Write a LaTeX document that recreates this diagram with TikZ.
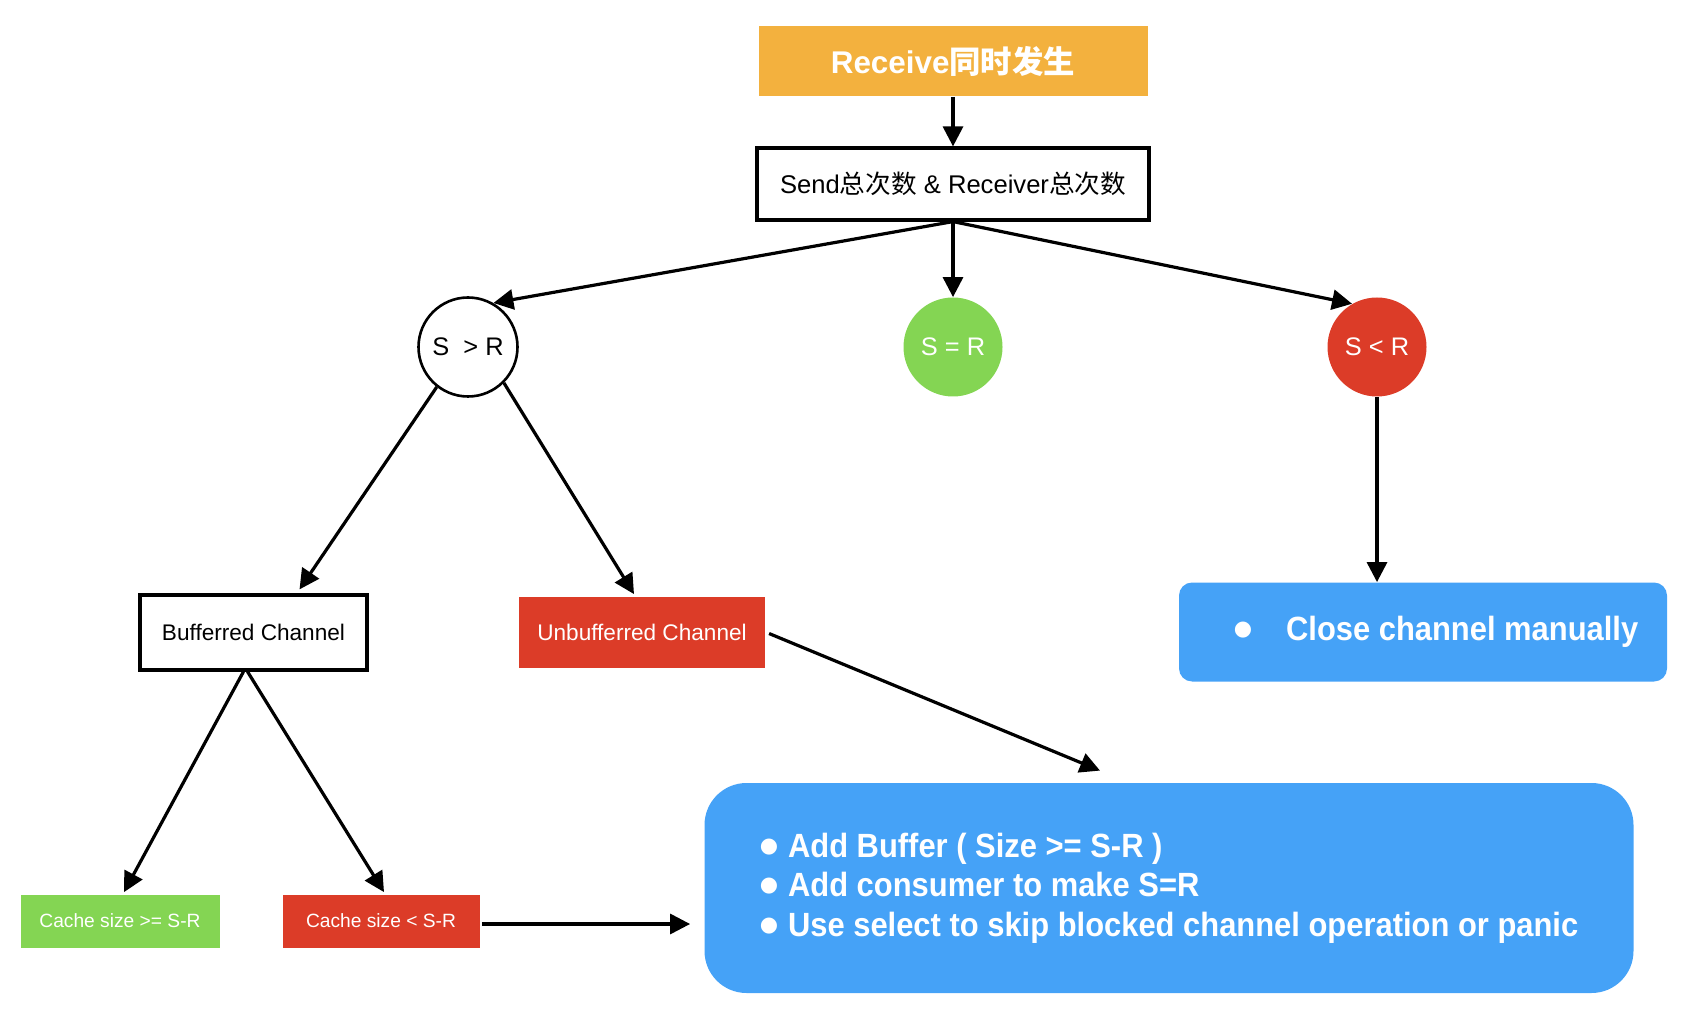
\documentclass[tikz,border=0pt]{standalone}
\usepackage{fontspec}
\setmainfont{Liberation Sans}
\newfontfamily\cjk{Noto Sans CJK SC}
\newfontfamily\tipfont[FakeStretch=0.92]{Liberation Sans}
\newfontfamily\symfont{DejaVu Sans}
\newcommand{\tipdot}{\raisebox{2.4pt}{\symfont\fontsize{10.5}{0}\selectfont ●}}
\usetikzlibrary{arrows.meta}
\definecolor{orangebox}{HTML}{F3B13E}
\definecolor{greenbox}{HTML}{84D553}
\definecolor{redbox}{HTML}{DC3C28}
\definecolor{bluebox}{HTML}{45A2F7}
\tikzset{
	arr/.style={line width=1.6pt, -{Triangle[length=10pt,width=10pt]}},
	sketchbox/.style={draw, line width=1.6pt, fill=white, inner sep=0pt},
	flatbox/.style={fill=#1, text=white, inner sep=0pt},
	cond/.style={circle, minimum size=49.5pt, inner sep=0pt, font=\fontsize{12.7}{15}\selectfont},
	tipbox/.style={fill=bluebox, text=white, align=left, inner sep=0pt, font=\tipfont\fontsize{16.8}{19.7}\selectfont\bfseries}
}
\begin{document}
\begin{tikzpicture}[x=0.5pt, y=-0.5pt]
	\useasboundingbox (0,0) rectangle (1691,1015);
	\node[flatbox=orangebox, minimum width=194.5pt, minimum height=35pt, font=\fontsize{15.7}{18}\selectfont\bfseries] (recv) at (953,61.5) {Receive{\cjk 同时发生}};
	\node[sketchbox, minimum width=196pt, minimum height=36pt, font=\fontsize{12.8}{15}\selectfont] (send) at (953,184) {Send{\cjk 总次数} \& Receiver{\cjk 总次数}};
	
	\node[cond, draw, line width=1.3pt] (sgr) at (468,347) {S~ > R};
	\node[cond, fill=greenbox, text=white] (seq) at (953,347) {S = R};
	\node[cond, fill=redbox, text=white] (slr) at (1377,347) {S < R};
	
	\node[sketchbox, minimum width=113.5pt, minimum height=37.5pt, font=\fontsize{11.3}{14}\selectfont] (buf) at (253.5,632.5) {Bufferred Channel};
	\node[flatbox=redbox, minimum width=123pt, minimum height=35.5pt, font=\fontsize{11.3}{14}\selectfont] (unbuf) at (642,632) {Unbufferred Channel};
	\node[tipbox, rounded corners=6.5pt, minimum width=244pt, minimum height=49.5pt] (close) at (1423,632) {\hspace{13pt}\tipdot\hspace{17pt}Close channel manually};
	
	\node[flatbox=greenbox, minimum width=99.5pt, minimum height=26.5pt, font=\fontsize{9.6}{12}\selectfont] (cge) at (120,921) {Cache size >= S-R};
	\node[flatbox=redbox, minimum width=98.5pt, minimum height=26.5pt, font=\fontsize{9.6}{12}\selectfont] (clt) at (381,921) {Cache size < S-R};
	\node[tipbox, rounded corners=21pt, minimum width=464.5pt, minimum height=105pt] (fix) at (1169,888) {\tipdot\hspace{5pt}Add Buffer ( Size >= S-R )\\
		\tipdot\hspace{5pt}Add consumer to make S=R\\
		\tipdot\hspace{5pt}Use select to skip blocked channel operation or panic};
	
	\draw[arr] (recv) -- (send);
	\draw[arr] (send.south) -- (sgr.60);
	\draw[arr] (send.south) -- (seq.north);
	\draw[arr] (send.south) -- (slr.120);
	\draw[arr] (sgr.-128) -- ([xshift=23pt, yshift=2pt]buf.north);
	\draw[arr] (sgr.-45) -- ([xshift=-4pt, yshift=1pt]unbuf.north);
	\draw[arr] (slr.south) -- (slr.south |- close.north);
	\draw[arr, shorten <=2pt] (unbuf.east) -- ([xshift=-34.5pt, yshift=6pt]fix.north);
	\draw[arr] ([xshift=-5pt]buf.south) -- ([xshift=2pt, yshift=1pt]cge.north);
	\draw[arr] ([xshift=-3pt]buf.south) -- ([xshift=1.5pt, yshift=1pt]clt.north);
	\draw[arr, shorten <=1pt, shorten >=7pt] ([yshift=-1.5pt]clt.east) -- ([yshift=-1.5pt]clt.east -| fix.west);
\end{tikzpicture}
\end{document}
